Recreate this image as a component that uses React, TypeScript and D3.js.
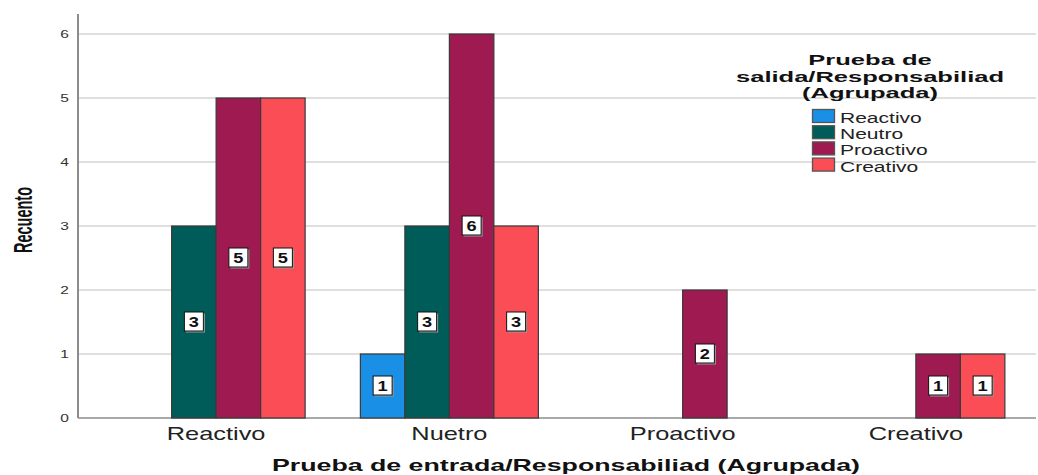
import React from "react";
import * as d3 from "d3";

const categories = ["Reactivo", "Nuetro", "Proactivo", "Creativo"];
const seriesNames = ["Reactivo", "Neutro", "Proactivo", "Creativo"];
const seriesColors = ["#1a8fe6", "#005c58", "#9e1a50", "#fb4d56"];
// counts per series, one value per category
const reactivoValues = [0, 1, 0, 0];
const neutroValues = [3, 3, 0, 0];
const proactivoValues = [5, 6, 2, 1];
const creativoValues = [5, 3, 0, 1];
const seriesValues = [reactivoValues, neutroValues, proactivoValues, creativoValues];
const yTicks = [0, 1, 2, 3, 4, 5, 6];
const xTitle = "Prueba de entrada/Responsabiliad (Agrupada)";
const yTitle = "Recuento";
const legendTitle = ["Prueba de", "salida/Responsabiliad", "(Agrupada)"];

const FONT = "'Liberation Sans', Arial, sans-serif";

export default function App() {
  const W = 1038;
  const H = 475;
  const axisX = 78;
  const plotRight = 1036;
  const y = d3.scaleLinear().domain([0, 6]).range([418, 34]);
  const x0 = d3.scaleBand<string>().domain(categories).range([99.5, 1032.5]).padding(0);
  const groupW = 178;
  const x1 = d3
    .scaleBand<string>()
    .domain(seriesNames)
    .range([-groupW / 2, groupW / 2])
    .padding(0);

  const bars: any[] = [];
  seriesValues.forEach((vals, si) => {
    vals.forEach((v, ci) => {
      if (v <= 0) return;
      const cx = (x0(categories[ci]) as number) + x0.bandwidth() / 2;
      const bx = cx + (x1(seriesNames[si]) as number);
      bars.push({ si, ci, v, bx, bw: x1.bandwidth(), top: y(v), bottom: y(0) });
    });
  });

  return (
    <svg
      width={W}
      height={H}
      style={{ position: "absolute", left: 0, top: 0, background: "#fff" }}
      fontFamily={FONT}
    >
      {/* gridlines */}
      {yTicks.map((t) => (
        <line
          key={"g" + t}
          x1={axisX}
          x2={plotRight}
          y1={y(t)}
          y2={y(t)}
          stroke={t === 0 ? "#8c8c8c" : "#d4d4d4"}
          strokeWidth={t === 0 ? 1.5 : 1.3}
        />
      ))}
      {/* y axis line */}
      <line x1={axisX} x2={axisX} y1={14} y2={y(0)} stroke="#8c8c8c" strokeWidth={2} />
      {/* y tick labels */}
      {yTicks.map((t) => (
        <text
          key={"t" + t}
          transform={`translate(69,${y(t) + 4.2}) scale(1.35,1)`}
          textAnchor="end"
          fontSize={11.5}
          fill="#333"
        >
          {t}
        </text>
      ))}
      {/* y title */}
      <text
        transform={`translate(32,220) scale(1.55,1) rotate(-90)`}
        textAnchor="middle"
        fontSize={16.5}
        fontWeight="bold"
        fill="#111"
        textLength={66}
        lengthAdjust="spacingAndGlyphs"
      >
        {yTitle}
      </text>

      {/* legend title */}
      {legendTitle.map((l, i) => (
        <text
          key={"lt" + i}
          transform={`translate(870,${65.3 + i * 16.3}) scale(1.76,1)`}
          textAnchor="middle"
          fontSize={14.5}
          fontWeight="bold"
          fill="#111"
        >
          {l}
        </text>
      ))}
      {seriesNames.map((s, i) => (
        <g key={"lg" + s}>
          <rect
            x={812.5}
            y={109.5 + i * 16.2}
            width={22}
            height={13}
            fill={seriesColors[i]}
            stroke="#555"
            strokeWidth={1.3}
          />
          <text
            transform={`translate(840,${123 + i * 16.2}) scale(1.45,1)`}
            fontSize={14.5}
            fill="#222"
          >
            {s}
          </text>
        </g>
      ))}

      {/* bars */}
      {bars.map((b) => (
        <rect
          key={`b${b.si}-${b.ci}`}
          x={b.bx}
          y={b.top}
          width={b.bw}
          height={b.bottom - b.top}
          fill={seriesColors[b.si]}
          stroke="#3a3a3a"
          strokeWidth={1.2}
        />
      ))}
      {/* bar labels */}
      {bars.map((b) => {
        const cx = b.bx + b.bw / 2;
        const cy = (b.top + b.bottom) / 2;
        return (
          <g key={`l${b.si}-${b.ci}`}>
            <rect x={cx - 8} y={cy - 8.5} width={19} height={19} fill="#9a9a9a" />
            <rect
              x={cx - 9.5}
              y={cy - 10}
              width={19}
              height={19}
              fill="#fff"
              stroke="#111"
              strokeWidth={1}
            />
            <text
              transform={`translate(${cx},${cy + 5}) scale(1.3,1)`}
              textAnchor="middle"
              fontSize={14}
              fontWeight="bold"
              fill="#111"
            >
              {b.v}
            </text>
          </g>
        );
      })}

      {/* x tick labels */}
      {categories.map((c) => (
        <text
          key={"x" + c}
          transform={`translate(${(x0(c) as number) + x0.bandwidth() / 2},440) scale(1.45,1)`}
          textAnchor="middle"
          fontSize={17.5}
          fill="#222"
        >
          {c}
        </text>
      ))}
      {/* x title */}
      <text
        x={566}
        y={471}
        textAnchor="middle"
        fontSize={17}
        fontWeight="bold"
        fill="#111"
        textLength={588}
        lengthAdjust="spacingAndGlyphs"
      >
        {xTitle}
      </text>
    </svg>
  );
}
